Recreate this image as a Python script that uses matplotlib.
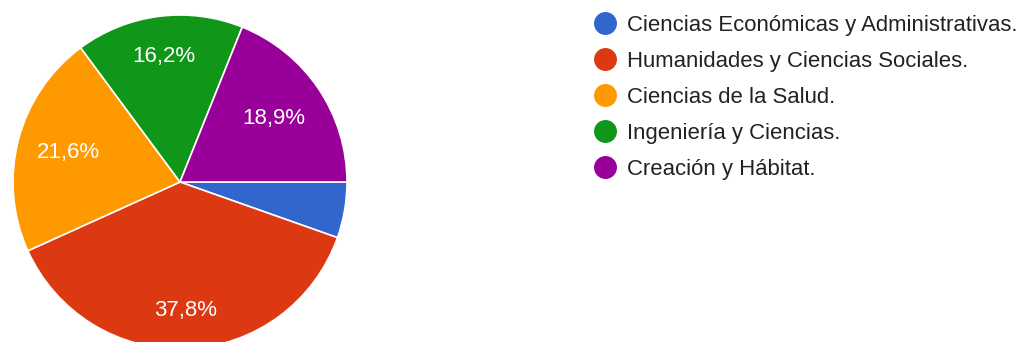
import numpy as np
import matplotlib
matplotlib.use("Agg")
import matplotlib.pyplot as plt
from matplotlib.lines import Line2D

plt.rcParams['font.family'] = ['Liberation Sans', 'DejaVu Sans']

categories = [
    "Ciencias Económicas y Administrativas.",
    "Humanidades y Ciencias Sociales.",
    "Ciencias de la Salud.",
    "Ingeniería y Ciencias.",
    "Creación y Hábitat.",
]
counts = [2, 14, 8, 6, 7]
colors = ["#3366cc", "#dc3912", "#ff9900", "#109618", "#990099"]

# radial position of each percentage label, as a fraction of the radius
label_dist = [0.72, 0.77, 0.69, 0.76, 0.68]

W, H = 1026, 342
fig = plt.figure(figsize=(W / 100, H / 100), dpi=100)
ax = fig.add_axes([0, 0, 1, 1])

cx, cy, r = 180, H - 182, 167


def fmt(p):
    return "" if p < 10 else f"{p:.1f}".replace(".", ",") + "%"


wedges, _, autotexts = ax.pie(
    counts, colors=colors, startangle=0, counterclock=False,
    center=(cx, cy), radius=r, autopct=fmt,
    wedgeprops=dict(edgecolor="white", linewidth=1.2),
    textprops=dict(color="white", fontsize=16),
)

for w, t, d in zip(wedges, autotexts, label_dist):
    ang = np.deg2rad((w.theta1 + w.theta2) / 2)
    t.set_position((cx + d * r * np.cos(ang), cy + d * r * np.sin(ang)))

ax.set_xlim(0, W)
ax.set_ylim(0, H)
ax.set_aspect("auto")
ax.axis("off")

handles = [Line2D([], [], marker="o", linestyle="none", markersize=15.5,
                  markerfacecolor=c, markeredgecolor=c) for c in colors]
leg = ax.legend(handles, categories, loc="upper left",
                bbox_to_anchor=(583 / W, 1 - 6 / H), frameon=False,
                fontsize=15.9, labelspacing=0.68, handletextpad=0.4,
                handlelength=1.2, borderaxespad=0, labelcolor="#222222")

fig.savefig("out.png", dpi=100, facecolor="white")
